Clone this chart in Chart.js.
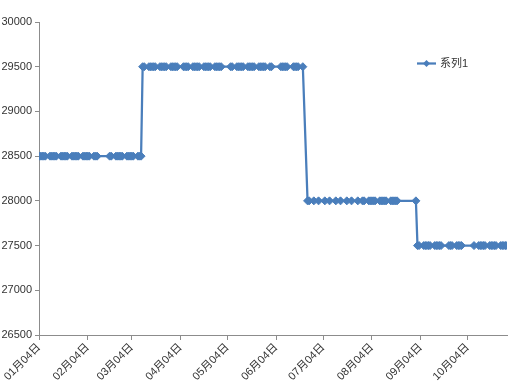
<!DOCTYPE html>
<html>
<head>
<meta charset="utf-8">
<script src="https://cdn.jsdelivr.net/npm/chart.js@4.4.1/dist/chart.umd.min.js"></script>
<style>
html,body{margin:0;padding:0;background:#ffffff;}
#c{display:block;}
</style>
</head>
<body>
<canvas id="c" width="517" height="389"></canvas>
<script>
// ---- data ----
const year = 2021;
const seriesName = '系列1';

const dates = [
  // 28500
  '01-04','01-05','01-06','01-07','01-08','01-11','01-12','01-13','01-14','01-15',
  '01-18','01-19','01-20','01-21','01-22','01-25','01-26','01-27','01-28','01-29',
  '02-01','02-02','02-03','02-04','02-05','02-08','02-09','02-10',
  '02-18','02-19','02-22','02-23','02-24','02-25','02-26',
  '03-01','03-02','03-03','03-04','03-05','03-08','03-09','03-10',
  // 29500
  '03-11','03-12','03-15','03-16','03-17','03-18','03-19','03-22','03-23','03-24','03-25','03-26',
  '03-29','03-30','03-31','04-01','04-02','04-06','04-07','04-08','04-09',
  '04-12','04-13','04-14','04-15','04-16','04-19','04-20','04-21','04-22','04-23',
  '04-26','04-27','04-28','04-29','04-30',
  '05-06','05-07','05-10','05-11','05-12','05-13','05-14','05-17','05-18','05-19','05-20','05-21',
  '05-24','05-25','05-26','05-27','05-28','05-31','06-01',
  '06-07','06-08','06-09','06-10','06-11','06-15','06-16','06-17','06-18','06-21',
  // 28000
  '06-24','06-25','06-28','07-01','07-05','07-08','07-12','07-15','07-19','07-22','07-26',
  '07-29','07-30','08-02','08-03','08-04','08-05','08-06','08-09','08-10','08-11','08-12','08-13',
  '08-16','08-17','08-18','08-19','08-20',
  '09-01',
  // 27500
  '09-02','09-03','09-06','09-07','09-08','09-09','09-10','09-13','09-14','09-15','09-16','09-17',
  '09-22','09-23','09-24','09-27','09-28','09-29','09-30',
  '10-08','10-11','10-12','10-13','10-14','10-15','10-18','10-19','10-20','10-21','10-22',
  '10-25','10-26','10-27','10-28','10-29'
];

const prices = [
  28500,28500,28500,28500,28500,28500,28500,28500,28500,28500,
  28500,28500,28500,28500,28500,28500,28500,28500,28500,28500,
  28500,28500,28500,28500,28500,28500,28500,28500,
  28500,28500,28500,28500,28500,28500,28500,
  28500,28500,28500,28500,28500,28500,28500,28500,
  29500,29500,29500,29500,29500,29500,29500,29500,29500,29500,29500,29500,
  29500,29500,29500,29500,29500,29500,29500,29500,29500,
  29500,29500,29500,29500,29500,29500,29500,29500,29500,29500,
  29500,29500,29500,29500,29500,
  29500,29500,29500,29500,29500,29500,29500,29500,29500,29500,29500,29500,
  29500,29500,29500,29500,29500,29500,29500,
  29500,29500,29500,29500,29500,29500,29500,29500,29500,29500,
  28000,28000,28000,28000,28000,28000,28000,28000,28000,28000,28000,
  28000,28000,28000,28000,28000,28000,28000,28000,28000,28000,28000,28000,
  28000,28000,28000,28000,28000,
  28000,
  27500,27500,27500,27500,27500,27500,27500,27500,27500,27500,27500,27500,
  27500,27500,27500,27500,27500,27500,27500,
  27500,27500,27500,27500,27500,27500,27500,27500,27500,27500,27500,
  27500,27500,27500,27500,27500
];

const xTickDates  = ['01-04','02-04','03-04','04-04','05-04','06-04','07-04','08-04','09-04','10-04'];
const xTickLabels = ['01月04日','02月04日','03月04日','04月04日','05月04日','06月04日','07月04日','08月04日','09月04日','10月04日'];
const yMin = 26500, yMax = 30000, yStep = 500;

// ---- helpers ----
function dayOffset(md) {
  const p = md.split('-').map(Number);
  return Math.round((Date.UTC(year, p[0]-1, p[1]) - Date.UTC(year, 0, 4)) / 86400000);
}
const points = dates.map((d, i) => ({ x: dayOffset(d), y: prices[i] }));
const tickValues = xTickDates.map(dayOffset);

const lineColor = '#4a7ebb';
const axisColor = '#8c8c8c';
const textColor = '#333333';
const fontFamily = '"Liberation Sans", Arial, "Noto Sans CJK SC", sans-serif';

const legendPlugin = {
  id: 'excelLegend',
  afterDraw(chart) {
    const ctx = chart.ctx;
    const x0 = chart.width - 100, y0 = 63.5;
    ctx.save();
    ctx.strokeStyle = lineColor;
    ctx.lineWidth = 2.25;
    ctx.beginPath();
    ctx.moveTo(x0, y0);
    ctx.lineTo(x0 + 19, y0);
    ctx.stroke();
    const cx = x0 + 9.5, r = 3.5;
    ctx.fillStyle = lineColor;
    ctx.beginPath();
    ctx.moveTo(cx, y0 - r); ctx.lineTo(cx + r, y0); ctx.lineTo(cx, y0 + r); ctx.lineTo(cx - r, y0);
    ctx.closePath(); ctx.fill();
    ctx.fillStyle = textColor;
    ctx.font = '11px ' + fontFamily;
    ctx.textBaseline = 'middle';
    ctx.textAlign = 'left';
    ctx.fillText(seriesName, x0 + 23, y0);
    ctx.restore();
  }
};

new Chart(document.getElementById('c'), {
  type: 'line',
  data: {
    datasets: [{
      label: seriesName,
      data: points,
      borderColor: lineColor,
      backgroundColor: lineColor,
      borderWidth: 2.25,
      pointStyle: 'rectRot',
      pointRadius: 4,
      pointBorderWidth: 1,
      pointBackgroundColor: lineColor,
      pointBorderColor: lineColor,
      tension: 0,
      fill: false
    }]
  },
  options: {
    responsive: false,
    animation: false,
    events: [],
    layout: { padding: { left: 0, right: 10, top: 22, bottom: 0 } },
    plugins: { legend: { display: false }, tooltip: { enabled: false } },
    scales: {
      x: {
        type: 'linear',
        min: 0,
        max: dayOffset(dates[dates.length - 1]),
        afterBuildTicks: (s) => { s.ticks = tickValues.map(v => ({ value: v })); },
        afterFit: (s) => { s.height = 54; s.paddingLeft = 0; s.paddingRight = 0; },
        ticks: {
          autoSkip: false, maxRotation: 45, minRotation: 45, padding: 1,
          color: textColor, font: { size: 11, family: fontFamily },
          callback: (v) => { const i = tickValues.indexOf(v); return i >= 0 ? xTickLabels[i] : ''; }
        },
        grid: { drawOnChartArea: false, drawTicks: true, tickLength: 5, color: axisColor },
        border: { color: axisColor, width: 1 }
      },
      y: {
        min: yMin, max: yMax,
        afterFit: (s) => { s.width = 39; },
        ticks: { stepSize: yStep, padding: 3, color: textColor, font: { size: 11, family: fontFamily },
                 callback: (v) => String(v) },
        grid: { drawOnChartArea: false, drawTicks: true, tickLength: 4, color: axisColor },
        border: { color: axisColor, width: 1 }
      }
    }
  },
  plugins: [legendPlugin]
});
</script>
</body>
</html>
